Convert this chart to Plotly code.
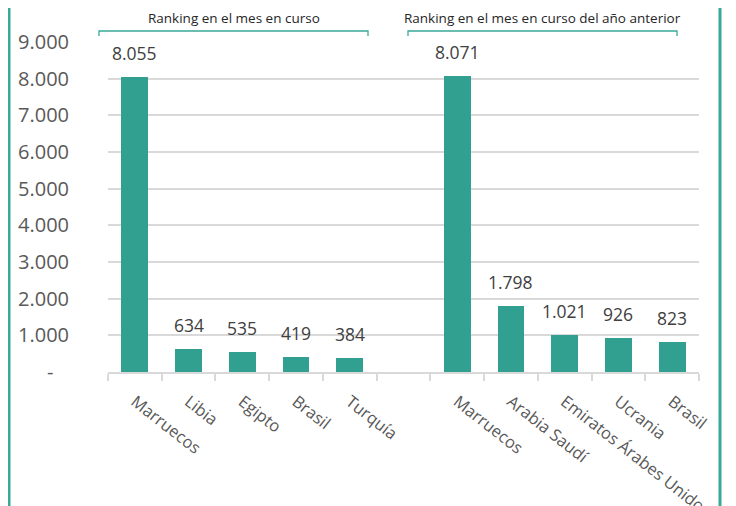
import plotly.graph_objects as go

# -----------------------------
# Datos
# -----------------------------
paises_actual = ["Marruecos", "Libia", "Egipto", "Brasil", "Turquía"]
valores_actual = [8055, 634, 535, 419, 384]

paises_anterior = ["Marruecos", "Arabia Saudí", "Emiratos Árabes Unidos", "Ucrania", "Brasil"]
valores_anterior = [8071, 1798, 1021, 926, 823]

titulo_actual = "Ranking en el mes en curso"
titulo_anterior = "Ranking en el mes en curso del año anterior"

y_ticks = [0, 1000, 2000, 3000, 4000, 5000, 6000, 7000, 8000, 9000]

# posiciones: 5 barras, hueco, 5 barras
x_actual = list(range(len(paises_actual)))
x_anterior = [len(paises_actual) + 1 + i for i in range(len(paises_anterior))]
x_todas = x_actual + x_anterior
nombres = paises_actual + paises_anterior
valores = valores_actual + valores_anterior


def fmt(v):
    return "-\u00a0\u00a0\u00a0" if v == 0 else f"{v:,}".replace(",", ".")


VERDE = "#32A090"
MARCO = "#3AA898"
FUENTE = "Open Sans"

# la pagina tiene 8px de margen en el body -> la figura empieza en (8, 8)
OFF = 8
W, H = 736 - OFF, 506 - OFF
ML, MR, MT, MB = 108 - OFF, 736 - 699, 42 - OFF, 506 - 372
PW, PH = W - ML - MR, H - MT - MB


# coordenadas de pantalla -> paper
def px_x(px):
    return (px - OFF - ML) / PW


def px_y(py):
    return (H - MB - (py - OFF)) / PH


fig = go.Figure()
fig.add_trace(go.Bar(
    x=x_todas, y=valores, width=0.5,
    marker=dict(color=VERDE, line=dict(width=0)),
    hoverinfo="skip", showlegend=False,
))

# etiquetas de datos
for x, v in zip(x_todas, valores):
    fig.add_annotation(
        x=x, y=v, text=fmt(v), showarrow=False, yanchor="bottom", yshift=10,
        font=dict(family=FUENTE, size=17.5, color="#404040"),
    )

# titulos de grupo y corchetes
grupos = [
    (titulo_actual, 99, 368),
    (titulo_anterior, 408, 677),
]
for texto, x0, x1 in grupos:
    fig.add_annotation(
        x=px_x((x0 + x1) / 2), y=px_y(18), xref="paper", yref="paper",
        text=texto, showarrow=False, xanchor="center", yanchor="middle",
        font=dict(family=FUENTE, size=13.5, color="#262626"),
    )
    fig.add_shape(
        type="path", xref="paper", yref="paper",
        path=(f"M {px_x(x0)},{px_y(36)} L {px_x(x0)},{px_y(31)} "
              f"L {px_x(x1)},{px_y(31)} L {px_x(x1)},{px_y(36)}"),
        line=dict(color=MARCO, width=1.3),
    )

# marco lateral
for px in (9, 720):
    fig.add_shape(
        type="line", xref="paper", yref="paper",
        x0=px_x(px), x1=px_x(px), y0=px_y(520), y1=px_y(0),
        line=dict(color=MARCO, width=3),
    )

fig.update_layout(
    width=W, height=H,
    margin=dict(l=ML, r=MR, t=MT, b=MB),
    paper_bgcolor="white", plot_bgcolor="white",
    font=dict(family=FUENTE, color="#595959"),
    bargap=0,
)
fig.update_xaxes(
    range=[-0.5, len(x_todas) + 0.5], automargin=False,
    tickmode="array", tickvals=x_todas, ticktext=nombres,
    tickangle=38, ticks="", ticklen=0, ticklabelstandoff=12,
    tickfont=dict(family=FUENTE, size=16.5, color="#595959"),
    showgrid=False, zeroline=False,
    showline=True, linecolor="#D9D9D9", linewidth=1.5,
    minor=dict(tickmode="linear", tick0=0.5, dtick=1, ticks="outside",
               ticklen=7, tickcolor="#D9D9D9", tickwidth=1.5, showgrid=False),
)
fig.update_yaxes(
    range=[0, 9000], automargin=False,
    tickmode="array", tickvals=y_ticks, ticktext=[fmt(v) for v in y_ticks],
    tickfont=dict(family=FUENTE, size=20, color="#595959"),
    showgrid=True, gridcolor="#D9D9D9", gridwidth=1.5,
    zeroline=False, showline=False, ticks="",
    ticklabelstandoff=38,
)

fig.write_html("out.html")
